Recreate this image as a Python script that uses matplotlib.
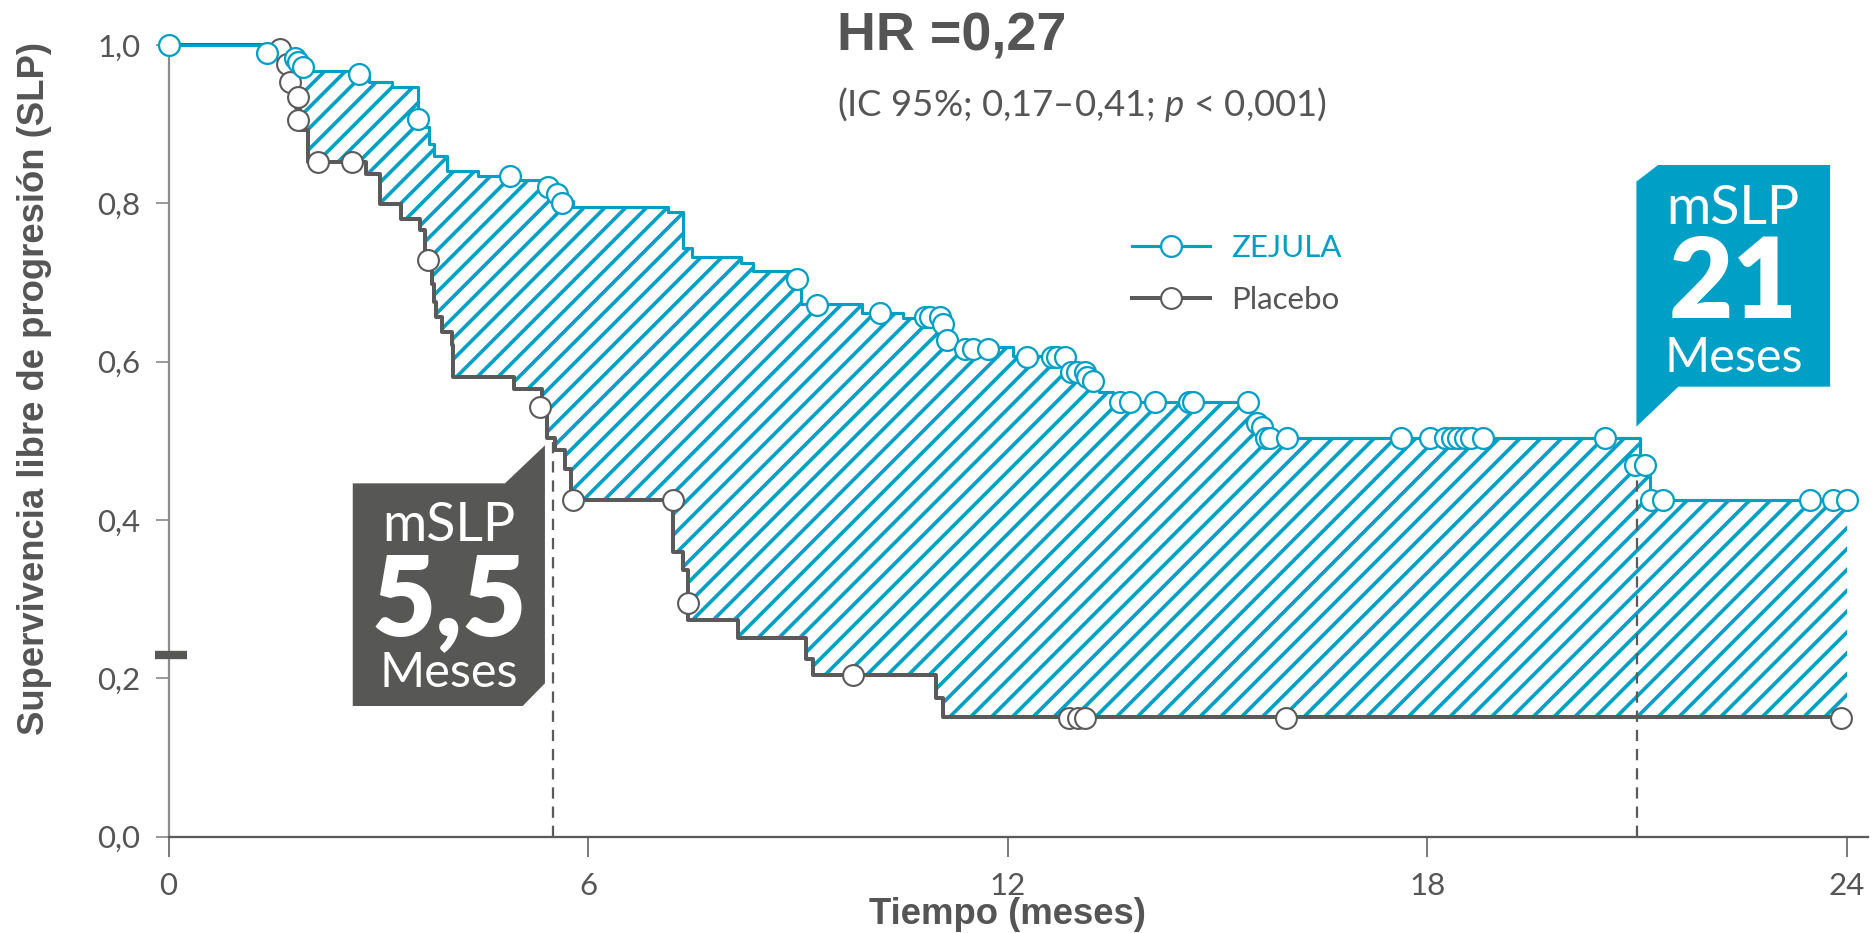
import numpy as np
import matplotlib
matplotlib.use("Agg")
import matplotlib.pyplot as plt
from matplotlib.lines import Line2D
from matplotlib.patches import Polygon

BLUE = "#009fc6"
GREY = "#5a5a5a"
BOX_GREY = "#575756"
TXT = "#555555"

# Kaplan-Meier steps (time in months, survival)
zejula_t = [0, 1.31, 1.80, 1.88, 1.95, 2.62, 2.86, 3.20, 3.57, 3.73,
            3.80, 3.98, 4.43, 4.95, 5.40, 5.50, 5.60, 5.79, 7.14, 7.36,
            7.48, 8.19, 8.36, 8.98, 9.05, 9.91, 10.50, 11.08, 11.12, 11.20,
            12.08, 12.88, 13.13, 13.22, 13.30, 13.50, 15.50, 15.65, 21.04, 21.18,
            24.0]
zejula_s = [1.0, 0.99, 0.982, 0.975, 0.967, 0.962, 0.953, 0.947, 0.896, 0.875,
            0.860, 0.841, 0.835, 0.829, 0.820, 0.812, 0.803, 0.795, 0.789, 0.743,
            0.732, 0.724, 0.715, 0.705, 0.673, 0.661, 0.655, 0.648, 0.627, 0.618,
            0.607, 0.587, 0.581, 0.576, 0.562, 0.549, 0.520, 0.503, 0.469, 0.425,
            0.425]

placebo_t = [0, 1.60, 1.68, 1.75, 1.82, 1.88, 2.00, 2.83, 3.02, 3.33,
             3.60, 3.67, 3.72, 3.76, 3.80, 3.83, 3.91, 4.05, 4.07, 4.94,
             5.34, 5.41, 5.53, 5.67, 5.76, 7.22, 7.36, 7.43, 8.15, 9.12,
             9.22, 10.98, 11.08, 24.0]
placebo_s = [1.0, 0.985, 0.965, 0.945, 0.92, 0.893, 0.852, 0.837, 0.799, 0.780,
             0.766, 0.740, 0.720, 0.698, 0.675, 0.656, 0.637, 0.621, 0.581, 0.565,
             0.548, 0.503, 0.488, 0.465, 0.425, 0.360, 0.337, 0.274, 0.251, 0.225,
             0.204, 0.175, 0.151, 0.151]

# censored observations
zejula_cens_t = [0, 1.41, 1.81, 1.85, 1.92, 2.73, 3.57, 4.88, 5.43, 5.55,
                 5.63, 8.98, 9.27, 10.17, 10.82, 10.89, 11.03, 11.08, 11.13, 11.39,
                 11.51, 11.72, 12.27, 12.63, 12.70, 12.82, 12.91, 12.99, 13.11, 13.13,
                 13.22, 13.61, 13.75, 14.11, 14.59, 14.65, 15.44, 15.56, 15.63, 15.70,
                 15.75, 16.00, 17.63, 18.04, 18.25, 18.35, 18.44, 18.54, 18.63, 18.80,
                 20.54, 20.97, 21.11, 21.20, 21.37, 23.47, 23.80, 24.00]
zejula_cens_s = [1.0, 0.99, 0.984, 0.978, 0.972, 0.963, 0.906, 0.835, 0.820, 0.812,
                 0.801, 0.705, 0.671, 0.661, 0.656, 0.656, 0.656, 0.648, 0.627, 0.616,
                 0.616, 0.616, 0.606, 0.606, 0.606, 0.606, 0.587, 0.587, 0.587, 0.581,
                 0.576, 0.549, 0.549, 0.549, 0.549, 0.549, 0.549, 0.522, 0.518, 0.503,
                 0.503, 0.503, 0.503, 0.503, 0.503, 0.503, 0.503, 0.503, 0.503, 0.503,
                 0.503, 0.469, 0.469, 0.425, 0.425, 0.425, 0.425, 0.425]

placebo_cens_t = [1.59, 1.69, 1.74, 1.85, 1.85, 2.14, 2.62, 3.71, 5.31, 5.79,
                  7.22, 7.43, 9.79, 12.87, 13.01, 13.10, 15.98, 23.92]
placebo_cens_s = [0.995, 0.976, 0.953, 0.934, 0.905, 0.852, 0.852, 0.728, 0.543, 0.425,
                  0.425, 0.295, 0.204, 0.150, 0.150, 0.150, 0.150, 0.150]

median_t = [5.5, 21.0]
median_top = [0.50, 0.47]

xticks = [0, 6, 12, 18, 24]
yticks = [0.0, 0.2, 0.4, 0.6, 0.8, 1.0]
ytick_labels = ["0,0", "0,2", "0,4", "0,6", "0,8", "1,0"]

plt.rcParams["hatch.linewidth"] = 2.1
plt.rcParams["hatch.color"] = BLUE
plt.rcParams["mathtext.fontset"] = "custom"
plt.rcParams["mathtext.it"] = "Lato:italic"
plt.rcParams["mathtext.rm"] = "Lato"

fig = plt.figure(figsize=(15, 7.464), dpi=125)
ax = fig.add_axes([0.0899, 0.1032, 0.9063, 0.8486])
ax.set_xlim(0, 24.3)
ax.set_ylim(0, 1.0)

# hatched area between the curves
zt = np.array(zejula_t); zs = np.array(zejula_s)
pt = np.array(placebo_t); ps = np.array(placebo_s)
grid = np.union1d(zt, pt)
upper = zs[np.searchsorted(zt, grid, side="right") - 1]
lower = ps[np.searchsorted(pt, grid, side="right") - 1]
ax.fill_between(grid, lower, upper, step="post", facecolor="none",
                edgecolor=BLUE, hatch="//", linewidth=0, zorder=1)

ax.step(placebo_t, placebo_s, where="post", color=GREY, lw=2.3, zorder=3, clip_on=False)
ax.step(zejula_t, zejula_s, where="post", color=BLUE, lw=1.8, zorder=4, clip_on=False)

ax.vlines(median_t, 0, median_top, colors=GREY, linestyles=(0, (5, 3.5)), lw=1.3, zorder=2)

ax.plot(placebo_cens_t, placebo_cens_s, "o", ms=12, mfc="white", mec=GREY, mew=1.2,
        zorder=5, clip_on=False)
ax.plot(zejula_cens_t, zejula_cens_s, "o", ms=12, mfc="white", mec=BLUE, mew=1.3,
        zorder=6, clip_on=False)

# small stray mark on the y axis
ax.plot([-0.2, 0.26], [0.229, 0.229], color=BOX_GREY, lw=4.8, solid_capstyle="butt",
        clip_on=False, zorder=7)

# axes styling
for s in ["top", "right"]:
    ax.spines[s].set_visible(False)
ax.spines["left"].set_color("#8c8c8c")
ax.spines["left"].set_linewidth(1.3)
ax.spines["bottom"].set_color("#5a5a5a")
ax.spines["bottom"].set_linewidth(1.3)
ax.set_xticks(xticks)
ax.set_xticklabels([str(v) for v in xticks])
ax.set_yticks(yticks)
ax.set_yticklabels(ytick_labels)
ax.tick_params(axis="x", length=11.5, width=1.0, color="#6a6a6a", pad=9,
               labelsize=18, labelcolor=TXT)
ax.tick_params(axis="y", length=7.3, width=1.0, color="#8c8c8c", pad=9,
               labelsize=18, labelcolor=TXT)
for lab in ax.get_xticklabels() + ax.get_yticklabels():
    lab.set_family("Lato")

ax.set_xlabel("Tiempo (meses)", fontsize=21, fontweight="bold", color=TXT,
              family="Liberation Sans")
ax.xaxis.set_label_coords(12 / 24.3, -0.0985)
ax.xaxis.label.set_va("center")
ax.set_ylabel("Supervivencia libre de progresión (SLP)", fontsize=21,
              fontweight="bold", color=TXT, family="Liberation Sans")
ax.yaxis.set_label_coords(-0.0786, 0.566)
ax.yaxis.label.set_va("center")

# HR annotation
fig.text(0.4464, 0.9614, "HR =0,27", fontsize=31, fontweight="bold", color=TXT,
         family="Liberation Sans", va="center", ha="left")
fig.text(0.4464, 0.8885, r"(IC 95%; 0,17–0,41; $\it{p}$ < 0,001)", fontsize=21,
         color=TXT, family="Lato", va="center", ha="left")

# legend
handles = [Line2D([], [], color=BLUE, lw=1.8, marker="o", ms=12, mfc="white", mec=BLUE, mew=1.3),
           Line2D([], [], color=GREY, lw=2.3, marker="o", ms=12, mfc="white", mec=GREY, mew=1.2)]
leg = ax.legend(handles, ["ZEJULA", "Placebo"], loc="upper left",
                bbox_to_anchor=(0.5952, 0.766), bbox_transform=fig.transFigure,
                frameon=False, borderpad=0, handlelength=2.5, handletextpad=0.7,
                labelspacing=0.77, numpoints=1, prop={"family": "Lato", "size": 18})
leg.get_texts()[0].set_color(BLUE)
leg.get_texts()[1].set_color(TXT)


def callout(xy, color, zorder=8):
    ax.add_patch(Polygon(xy, closed=True, facecolor=color, edgecolor="none",
                         zorder=zorder, clip_on=False))


# median boxes (placebo on the left, ZEJULA on the right)
callout([(2.634, 0.1651), (2.634, 0.4463), (4.81, 0.4463), (5.382, 0.4943),
         (5.382, 0.1938), (5.064, 0.1651)], BOX_GREY)
callout([(20.99, 0.5179), (20.99, 0.8274), (21.30, 0.8484), (23.76, 0.8484),
         (23.76, 0.5684), (21.59, 0.5684)], BLUE)

box_txt = [(4.008, 0.393, 0.296, 0.207, "5,5"), (22.375, 0.793, 0.697, 0.605, "21")]
for cx, y1, y2, y3, val in box_txt:
    ax.text(cx, y1, "mSLP", ha="center", va="center", color="white", fontsize=31,
            family="Lato", zorder=9)
    ax.text(cx, y2, val, ha="center", va="center", color="white", fontsize=64,
            family="Lato", fontweight="heavy", zorder=9)
    ax.text(cx, y3, "Meses", ha="center", va="center", color="white", fontsize=28,
            family="Lato", zorder=9)

fig.savefig("out.png", dpi=125)
